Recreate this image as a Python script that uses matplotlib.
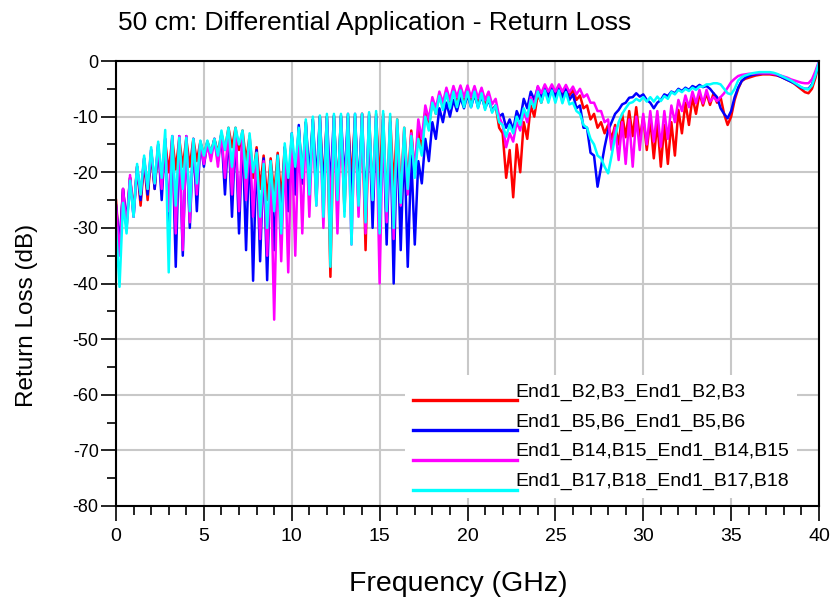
import numpy as np
import matplotlib
matplotlib.use("Agg")
import matplotlib.pyplot as plt
from matplotlib.lines import Line2D
from matplotlib.legend_handler import HandlerLine2D
from matplotlib.ticker import MultipleLocator

plt.rcParams['font.family'] = ['Liberation Sans', 'DejaVu Sans']
plt.rcParams['axes.unicode_minus'] = False

# frequency grid 0..40 GHz, one sample every 0.2 GHz (201 points)
freq = np.linspace(0, 40, 201)

# return loss in dB, rows of 2 GHz
red = [
    -25, -34, -23, -30, -21, -27, -19, -26, -18, -25,
    -16.5, -23, -15.5, -22, -14.5, -20, -14, -19.5, -14, -19,
    -14, -19, -14, -18, -14.5, -17, -14.5, -16.5, -14, -16.5,
    -13, -16, -12, -15.5, -12, -16, -12.5, -18, -13.5, -21,
    -15.5, -23, -17, -25, -17.5, -24, -16.5, -25, -15.5, -24,
    -13.5, -23, -12, -22, -11, -23, -10.5, -25, -10, -23,
    -10, -38.8, -10, -24, -10, -27, -10, -22, -10, -26,
    -9.5, -34, -9.5, -25, -9.5, -22, -9.5, -27, -10, -23,
    -10.5, -24, -12, -22, -12.5, -20, -12, -16, -9, -12,
    -7, -9.5, -6, -8, -5.5, -7.5, -5.2, -7, -5, -7,
    -5, -7, -5.2, -7.5, -5.8, -8, -6.5, -9, -8, -12,
    -13, -21, -16, -24.5, -15, -20, -11, -14, -8, -10,
    -6, -7.5, -5, -6.5, -4.7, -6, -4.6, -6, -4.7, -6.2,
    -5.2, -7, -6.2, -8.5, -8, -10.5, -9.5, -12, -11, -13,
    -11.5, -14, -11.5, -15, -9.5, -13.7, -9, -13.5, -8.3, -14,
    -10, -16, -10.5, -17.5, -11, -19, -11.5, -18.5, -11, -17,
    -8.8, -13, -7.5, -11.5, -6.5, -9.5, -5.8, -8, -5.8, -7.9,
    -5.8, -7.5, -6.5, -9.5, -11.5, -10, -7, -5, -3.6, -3.2,
    -3, -2.8, -2.6, -2.5, -2.4, -2.4, -2.4, -2.5, -2.6, -2.8,
    -3.1, -3.4, -3.7, -4.1, -4.6, -5.1, -5.6, -5.8, -5, -3,
    -0.3]

blue = [
    -26, -33, -23, -29, -21, -28, -19, -25, -17.5, -24,
    -16, -23, -15, -25, -14, -30, -13.5, -37, -13.5, -35,
    -13.5, -30, -14, -27, -14.5, -19, -14.5, -17, -14, -18,
    -13, -24, -12.5, -28, -12.5, -31, -13, -34, -14, -39.5,
    -16, -36, -17.5, -39.4, -18, -34, -17, -30, -15.5, -27,
    -13, -24, -11.5, -22, -11, -21, -10.5, -22, -10, -24,
    -10, -23, -9.8, -25, -9.8, -22, -9.5, -26, -9.5, -24,
    -9.5, -27, -9.8, -30, -10, -28, -10.5, -33, -11, -40,
    -12, -34, -14, -37, -17, -33, -18, -22, -14, -18,
    -11, -14, -8.5, -11, -7.5, -10, -7, -9, -6.5, -8.5,
    -6, -8.3, -6, -8.3, -6.3, -8.5, -7, -9, -8, -10,
    -9.5, -12, -10.5, -12.4, -9, -10.5, -6.8, -8.5, -5.5, -7,
    -4.7, -6.5, -4.5, -6.5, -4.5, -6.5, -4.6, -6.6, -5, -7,
    -6, -8.5, -8, -12, -12, -16.5, -17, -22.6, -19, -15.5,
    -12.5, -11, -9.5, -8.8, -7.8, -7.5, -6.6, -6.5, -5.8, -6.4,
    -6, -7, -7.5, -8.5, -7.5, -7, -6, -6.3, -5.5, -5.8,
    -5, -5.4, -4.8, -5.2, -4.5, -4.8, -4.3, -4.7, -4.5, -5,
    -5.8, -6.5, -8.5, -9.5, -10.3, -9, -6.5, -4.8, -3.6, -3,
    -2.7, -2.5, -2.4, -2.3, -2.2, -2.2, -2.2, -2.3, -2.5, -2.8,
    -3.1, -3.4, -3.7, -4, -4.4, -4.8, -5, -5, -4.2, -2.5,
    -0.2]

magenta = [
    -26, -35, -23, -30, -20.5, -28, -19, -24, -17.5, -23,
    -16, -22, -15, -23, -14, -27, -13.5, -31, -13.5, -34,
    -13.5, -29, -14, -24, -14.5, -18.5, -15, -18, -14, -19,
    -13, -21, -12.5, -24, -12.5, -27, -13, -25, -14, -28,
    -16.5, -32, -18, -35, -18.5, -46.5, -18, -36, -16, -38,
    -13.5, -35, -12.5, -31, -11.5, -28, -11, -26, -10.5, -30,
    -10.5, -27, -10.5, -31, -10.5, -24, -10.5, -33, -10.5, -28,
    -10, -31, -10, -25, -10, -40, -10, -29, -11, -32,
    -11.5, -26, -12.5, -24, -13, -20, -10.5, -14, -8, -10.5,
    -6.5, -8.5, -5.5, -7.5, -4.8, -7, -4.5, -6.5, -4.4, -6.5,
    -4.4, -6.5, -4.5, -6.7, -4.8, -7, -5.5, -7.8, -6.8, -10,
    -11.5, -15.5, -13, -14.5, -11, -12.5, -9, -11, -6.5, -8,
    -4.5, -5.8, -4.2, -5.5, -4.2, -5.5, -4.2, -5.5, -4.3, -5.6,
    -4.6, -6, -5, -6.5, -6, -7.5, -7.5, -9, -9, -11,
    -10.5, -16, -12, -17.8, -11, -18.5, -10.5, -19, -10, -16,
    -9.5, -15, -9, -14.5, -9, -15.4, -9, -14, -8, -11,
    -7, -9, -6.2, -8.3, -5.5, -7.6, -5.2, -7.6, -5.2, -7.3,
    -6.5, -7.2, -6.5, -5.8, -4.8, -3.8, -3.2, -2.7, -2.5, -2.4,
    -2.3, -2.3, -2.2, -2.2, -2.2, -2.2, -2.2, -2.3, -2.4, -2.6,
    -2.8, -3, -3.3, -3.5, -3.7, -3.9, -4, -4, -3.3, -1.8,
    0]

cyan = [
    -30, -40.6, -25.5, -31, -21.5, -28, -18.5, -24, -17, -23,
    -15.5, -22, -14.5, -21, -12.4, -38, -13.5, -26, -13.8, -23,
    -13.8, -27, -14, -22, -14.3, -17, -14.3, -16.5, -14, -17,
    -12.5, -16, -12, -19, -12, -15, -12.5, -21, -13, -20,
    -16.5, -28, -18.5, -30, -18, -27, -17, -31, -14.8, -21,
    -13, -19, -12, -21, -10.5, -24, -10, -26, -9.8, -28,
    -9.5, -37, -9.5, -25, -9.5, -28, -9.5, -33, -9.5, -26,
    -9.5, -29, -9.2, -25, -9, -31, -9, -27, -9.5, -30,
    -10.5, -25.5, -12, -23, -13.5, -21, -14, -17, -10, -12.5,
    -7.5, -9.5, -6.3, -8.8, -5.8, -8.5, -5.5, -8.3, -5.3, -8.3,
    -5.5, -8.3, -5.5, -8.5, -5.8, -8.8, -6.5, -9.3, -8, -11,
    -11.5, -13.6, -11.5, -13, -10, -11.5, -8.5, -10, -7, -8.5,
    -5.5, -7.5, -5.3, -7.5, -5.3, -7.5, -5.3, -7.6, -5.6, -7.8,
    -7.5, -9, -9.5, -11.5, -12, -14, -15, -17, -17.5, -19,
    -20.2, -17, -13.6, -11, -9.5, -8.5, -7.6, -7.4, -6.8, -7.2,
    -6.5, -7.3, -6.5, -7.3, -6.4, -7.2, -6.3, -6.8, -5.6, -6,
    -5.2, -5.6, -5, -5.4, -4.8, -5.2, -4.6, -4.6, -4.2, -4.2,
    -4, -4, -4.2, -5, -5.8, -6, -5, -3.5, -2.9, -2.6,
    -2.4, -2.2, -2.1, -2, -2, -2, -2, -2.1, -2.3, -2.6,
    -2.9, -3.2, -3.5, -3.9, -4.3, -4.7, -5, -5.1, -4.4, -2.5,
    -0.2]

labels = ["End1_B2,B3_End1_B2,B3", "End1_B5,B6_End1_B5,B6",
          "End1_B14,B15_End1_B14,B15", "End1_B17,B18_End1_B17,B18"]
colors = ["#ff0000", "#0000ff", "#ff00ff", "#00ffff"]


class LoweredLine(HandlerLine2D):
    # legend sample line sits under the text baseline, like the original tool
    def create_artists(self, legend, orig_handle, xdescent, ydescent,
                       width, height, fontsize, trans):
        return super().create_artists(legend, orig_handle, xdescent,
                                      ydescent + 1.1 * fontsize, width,
                                      height, fontsize, trans)


fig = plt.figure(figsize=(8.31, 6), dpi=100)
ax = fig.add_axes([116 / 831, 94 / 600, 703 / 831, 445 / 600])

handles = []
for series, color, label in zip([red, blue, magenta, cyan], colors, labels):
    line, = ax.plot(freq, series, color=color, lw=1.8, label=label)
    handles.append(line)

ax.set_xlim(0, 40)
ax.set_ylim(-80, 0)
ax.xaxis.set_major_locator(MultipleLocator(5))
ax.xaxis.set_minor_locator(MultipleLocator(1))
ax.yaxis.set_major_locator(MultipleLocator(10))
ax.yaxis.set_minor_locator(MultipleLocator(5))
ax.tick_params(which='major', direction='out', length=11, width=1.2,
               labelsize=13, colors='black')
ax.tick_params(which='minor', direction='out', length=6.5, width=1.2)
ax.tick_params(axis='x', which='major', pad=5, labelsize=14)
ax.tick_params(axis='y', which='major', pad=1.5)

ax.set_axisbelow(True)
ax.grid(True, which='major', color='#c8c8c8', lw=1.5)
for sp in ax.spines.values():
    sp.set_color('black')
    sp.set_linewidth(1.5)

leg = ax.legend(handles, labels, loc='upper left', bbox_to_anchor=(0.411, 0.294),
                fontsize=14, handlelength=5.35, handletextpad=-0.05,
                labelspacing=0.62, borderpad=0.4, borderaxespad=0,
                frameon=True, fancybox=False, edgecolor='none',
                facecolor='white', framealpha=1,
                handler_map={Line2D: LoweredLine()})
for l in leg.get_lines():
    l.set_linewidth(2.4)

fig.text(118 / 831, 1 - 30 / 600, "50 cm: Differential Application - Return Loss",
         fontsize=19, ha='left', va='baseline')
fig.text(458 / 831, 1 - 591 / 600, "Frequency (GHz)", fontsize=20.5,
         ha='center', va='baseline')
fig.text(27 / 831, 1 - 315 / 600, "Return Loss (dB)", fontsize=17.5,
         rotation=90, ha='center', va='center')

fig.savefig("out.png", dpi=100)
